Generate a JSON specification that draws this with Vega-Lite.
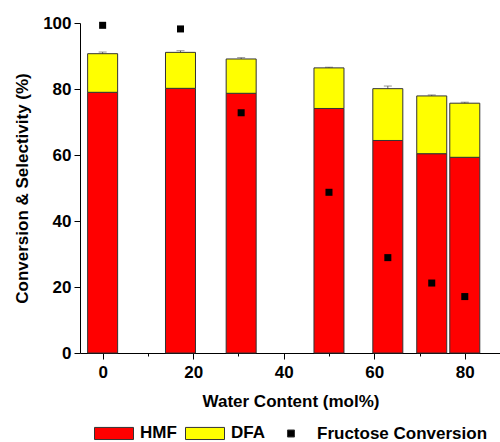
{
  "$schema": "https://vega.github.io/schema/vega-lite/v6.json",
  "width": 421,
  "height": 330,
  "padding": {"left": 13, "top": 14, "right": 0, "bottom": 0},
  "datasets": {
    "bars": [
      {"water": 0, "series": "HMF", "value": 79.0},
      {"water": 0, "series": "DFA", "value": 11.7},
      {"water": 17.2, "series": "HMF", "value": 80.2},
      {"water": 17.2, "series": "DFA", "value": 10.9},
      {"water": 30.6, "series": "HMF", "value": 78.7},
      {"water": 30.6, "series": "DFA", "value": 10.4},
      {"water": 50, "series": "HMF", "value": 74.1},
      {"water": 50, "series": "DFA", "value": 12.3},
      {"water": 63, "series": "HMF", "value": 64.4},
      {"water": 63, "series": "DFA", "value": 15.7},
      {"water": 72.7, "series": "HMF", "value": 60.4},
      {"water": 72.7, "series": "DFA", "value": 17.5},
      {"water": 80, "series": "HMF", "value": 59.3},
      {"water": 80, "series": "DFA", "value": 16.4}
    ],
    "points": [
      {"water": 0, "series": "Fructose Conversion", "value": 99.3},
      {"water": 17.2, "series": "Fructose Conversion", "value": 98.2},
      {"water": 30.6, "series": "Fructose Conversion", "value": 72.8},
      {"water": 50, "series": "Fructose Conversion", "value": 48.7},
      {"water": 63, "series": "Fructose Conversion", "value": 28.9},
      {"water": 72.7, "series": "Fructose Conversion", "value": 21.2},
      {"water": 80, "series": "Fructose Conversion", "value": 17.1}
    ],
    "errs": [
      {"water": 0, "total": 90.7, "err": 0.5},
      {"water": 17.2, "total": 91.1, "err": 0.5},
      {"water": 30.6, "total": 89.1, "err": 0.4},
      {"water": 50, "total": 86.4, "err": 0.2},
      {"water": 63, "total": 80.1, "err": 0.8},
      {"water": 72.7, "total": 77.9, "err": 0.3},
      {"water": 80, "total": 75.7, "err": 0.3}
    ]
  },
  "config": {
    "view": {"stroke": null},
    "font": "Liberation Sans",
    "axis": {
      "grid": false,
      "domainColor": "#000000",
      "domainWidth": 1,
      "tickColor": "#000000",
      "tickWidth": 1,
      "labelColor": "#000000",
      "titleColor": "#000000",
      "labelFont": "Liberation Sans",
      "titleFont": "Liberation Sans",
      "labelFontSize": 17,
      "labelFontWeight": "bold",
      "titleFontSize": 17,
      "titleFontWeight": "bold"
    },
    "legend": {
      "labelFont": "Liberation Sans",
      "labelFontSize": 17,
      "labelFontWeight": "bold",
      "labelColor": "#000000",
      "labelLimit": 400,
      "symbolStrokeColor": "#333333",
      "symbolStrokeWidth": 1,
      "symbolSize": 1521,
      "labelOffset": 6,
      "columnPadding": 6,
      "offset": 4,
      "layout": {"anchor": "middle"}
    }
  },
  "layer": [
    {
      "data": {"name": "errs"},
      "mark": {"type": "errorbar", "ticks": {"size": 8}, "color": "#666666"},
      "encoding": {
        "x": {"field": "water", "type": "quantitative"},
        "y": {"field": "total", "type": "quantitative", "title": "Conversion & Selectivity (%)"},
        "yError": {"field": "err"}
      }
    },
    {
      "data": {"name": "bars"},
      "mark": {"type": "bar", "width": 30, "stroke": "#333333", "strokeWidth": 1, "opacity": 1},
      "encoding": {
        "x": {
          "field": "water",
          "type": "quantitative",
          "title": "Water Content (mol%)",
          "scale": {"domain": [-5, 88], "nice": false, "zero": false, "padding": 0},
          "axis": {
            "values": [0, 10, 20, 30, 40, 50, 60, 70, 80],
            "labelExpr": "datum.value % 20 === 0 ? datum.label : ''",
            "tickSize": {"condition": {"test": "datum.value % 20 === 0", "value": 6}, "value": 3},
            "labelPadding": 5,
            "titlePadding": 13
          }
        },
        "y": {
          "field": "value",
          "type": "quantitative",
          "stack": "zero",
          "title": "Conversion & Selectivity (%)",
          "scale": {"domain": [0, 100], "nice": false, "padding": 0},
          "axis": {
            "values": [0, 10, 20, 30, 40, 50, 60, 70, 80, 90, 100],
            "labelExpr": "datum.value % 20 === 0 ? datum.label : ''",
            "tickSize": {"condition": {"test": "datum.value % 20 === 0", "value": 6}, "value": 3},
            "labelPadding": 3,
            "titlePadding": 11
          }
        },
        "color": {
          "field": "series",
          "type": "nominal",
          "title": null,
          "scale": {"domain": ["HMF", "DFA", "Fructose Conversion"], "range": ["#ff0000", "#ffff00", "#000000"]},
          "legend": {"orient": "bottom", "direction": "horizontal", "title": null}
        },
        "order": {"field": "series", "sort": "descending"}
      }
    },
    {
      "data": {"name": "points"},
      "mark": {"type": "point", "filled": true, "opacity": 1, "size": 1521},
      "encoding": {
        "x": {"field": "water", "type": "quantitative"},
        "y": {"field": "value", "type": "quantitative", "title": "Conversion & Selectivity (%)"},
        "color": {"field": "series", "type": "nominal", "title": null},
        "shape": {
          "field": "series",
          "type": "nominal",
          "title": null,
          "scale": {
            "domain": ["HMF", "DFA", "Fructose Conversion"],
            "range": ["M-1,-0.31H1V0.31H-1Z", "M-1,-0.31H1V0.31H-1Z", "M-0.18,-0.18H0.18V0.18H-0.18Z"]
          },
          "legend": {"orient": "bottom", "direction": "horizontal", "title": null}
        }
      }
    }
  ]
}
